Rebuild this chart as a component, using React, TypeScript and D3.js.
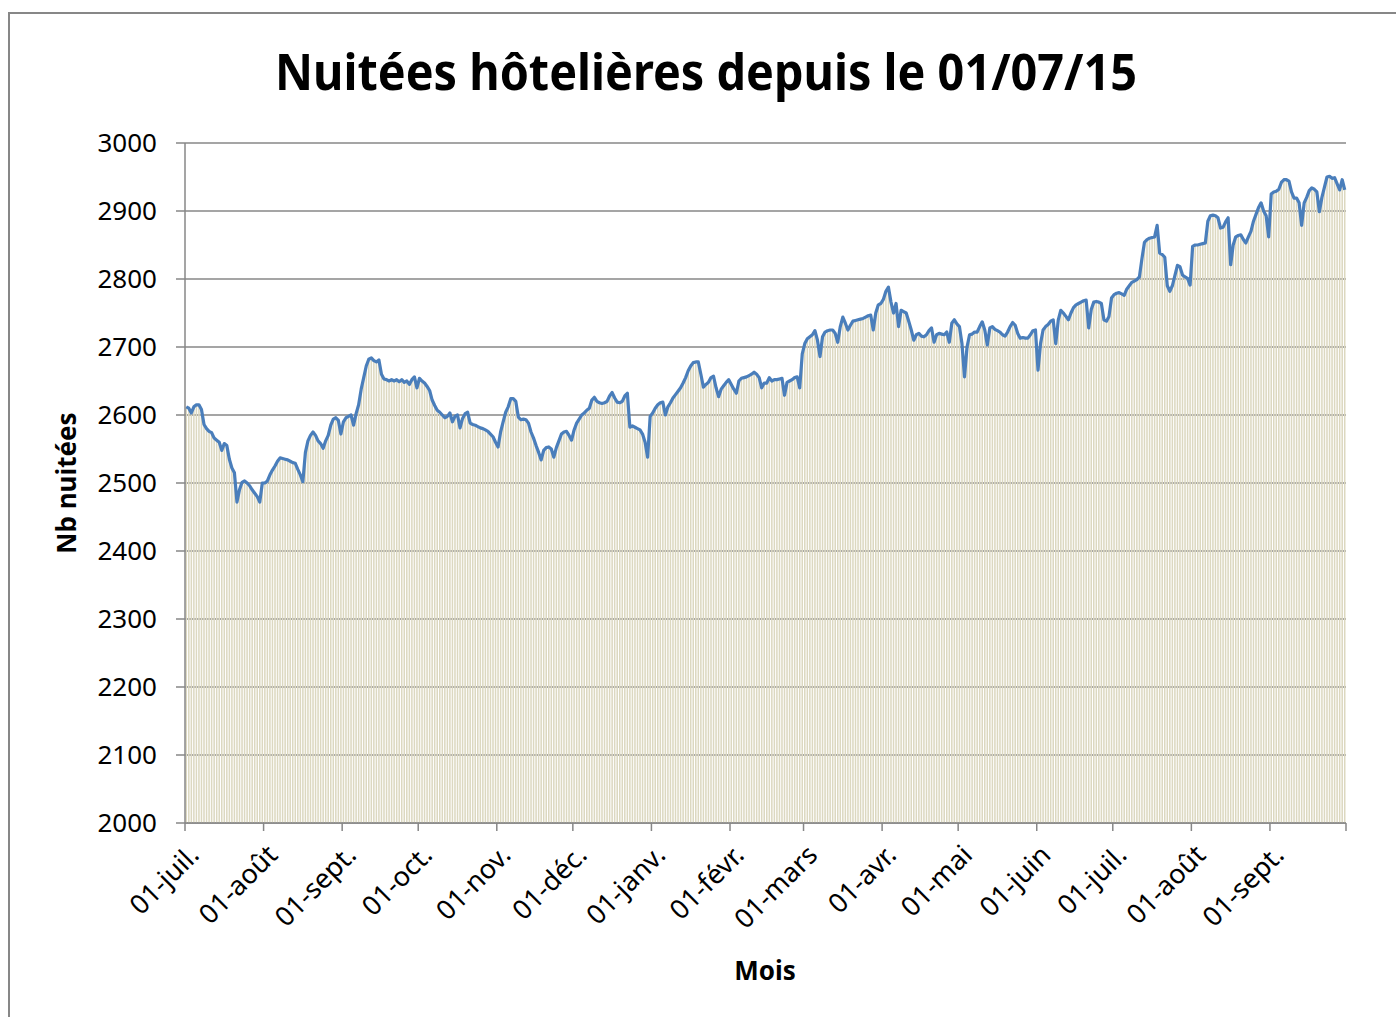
import * as d3 from "d3";

// daily values, one array per month (01/07/15 -> 30/09/16)
const jul15 = [2612, 2610, 2603, 2612, 2615, 2615, 2608, 2586, 2580, 2576, 2574, 2566, 2563, 2560, 2548, 2558, 2555, 2535, 2522, 2515, 2472, 2490, 2501, 2503, 2500, 2496, 2490, 2485, 2480, 2472, 2500];
const aug15 = [2500, 2503, 2512, 2519, 2525, 2532, 2537, 2536, 2535, 2534, 2532, 2530, 2529, 2520, 2512, 2502, 2545, 2562, 2570, 2575, 2570, 2562, 2558, 2551, 2562, 2570, 2585, 2594, 2596, 2592, 2572];
const sep15 = [2590, 2596, 2598, 2600, 2585, 2602, 2615, 2638, 2655, 2672, 2682, 2684, 2680, 2678, 2681, 2660, 2653, 2652, 2650, 2652, 2650, 2652, 2649, 2652, 2648, 2650, 2645, 2652, 2656, 2640];
const oct15 = [2654, 2650, 2647, 2642, 2636, 2622, 2614, 2607, 2604, 2600, 2596, 2598, 2603, 2590, 2598, 2600, 2581, 2595, 2602, 2604, 2588, 2586, 2585, 2583, 2581, 2580, 2578, 2576, 2572, 2568, 2560];
const nov15 = [2553, 2575, 2590, 2604, 2612, 2624, 2624, 2620, 2597, 2593, 2594, 2593, 2588, 2575, 2566, 2555, 2545, 2534, 2548, 2552, 2553, 2550, 2538, 2552, 2562, 2572, 2575, 2576, 2570, 2563];
const dec15 = [2578, 2588, 2594, 2600, 2603, 2607, 2610, 2622, 2626, 2620, 2618, 2617, 2618, 2620, 2628, 2633, 2625, 2619, 2618, 2620, 2628, 2632, 2582, 2584, 2582, 2580, 2578, 2572, 2560, 2538, 2598];
const jan16 = [2603, 2610, 2615, 2618, 2619, 2600, 2612, 2618, 2625, 2630, 2635, 2640, 2647, 2655, 2665, 2672, 2677, 2678, 2678, 2660, 2641, 2645, 2648, 2655, 2657, 2640, 2627, 2638, 2643, 2648, 2652];
const feb16 = [2645, 2638, 2632, 2650, 2654, 2655, 2656, 2658, 2660, 2663, 2660, 2655, 2640, 2647, 2647, 2655, 2650, 2652, 2652, 2653, 2654, 2629, 2648, 2650, 2652, 2655, 2656, 2640, 2690];
const mar16 = [2705, 2712, 2715, 2718, 2724, 2710, 2686, 2715, 2722, 2724, 2725, 2725, 2720, 2707, 2730, 2744, 2735, 2725, 2732, 2738, 2739, 2740, 2741, 2742, 2744, 2746, 2747, 2725, 2750, 2762, 2764];
const apr16 = [2770, 2782, 2788, 2766, 2750, 2764, 2730, 2754, 2752, 2750, 2738, 2725, 2710, 2718, 2720, 2716, 2715, 2718, 2724, 2728, 2707, 2718, 2720, 2719, 2718, 2722, 2707, 2735, 2740, 2734];
const may16 = [2730, 2705, 2656, 2700, 2718, 2719, 2722, 2722, 2730, 2737, 2725, 2703, 2728, 2730, 2726, 2724, 2722, 2718, 2716, 2722, 2730, 2736, 2732, 2720, 2713, 2714, 2713, 2713, 2718, 2724, 2725];
const jun16 = [2666, 2705, 2725, 2730, 2733, 2738, 2740, 2705, 2740, 2754, 2750, 2745, 2740, 2750, 2758, 2762, 2764, 2766, 2768, 2769, 2728, 2755, 2766, 2767, 2766, 2764, 2740, 2738, 2745, 2772];
const jul16 = [2777, 2779, 2780, 2778, 2776, 2785, 2790, 2795, 2797, 2799, 2803, 2830, 2854, 2858, 2860, 2861, 2862, 2879, 2838, 2836, 2832, 2790, 2782, 2790, 2805, 2820, 2818, 2806, 2803, 2801, 2791];
const aug16 = [2848, 2850, 2850, 2851, 2852, 2853, 2885, 2893, 2894, 2893, 2890, 2875, 2876, 2884, 2890, 2821, 2850, 2862, 2864, 2865, 2858, 2853, 2862, 2870, 2885, 2895, 2905, 2912, 2900, 2893, 2862];
const sep16 = [2925, 2928, 2929, 2932, 2942, 2946, 2946, 2944, 2928, 2919, 2919, 2912, 2879, 2912, 2920, 2930, 2934, 2932, 2928, 2899, 2920, 2935, 2950, 2951, 2948, 2949, 2940, 2931, 2946, 2931];

const months = [jul15, aug15, sep15, oct15, nov15, dec15, jan16, feb16, mar16, apr16, may16, jun16, jul16, aug16, sep16];
const monthLabels = ["01-juil.", "01-août", "01-sept.", "01-oct.", "01-nov.", "01-déc.", "01-janv.", "01-févr.", "01-mars", "01-avr.", "01-mai", "01-juin", "01-juil.", "01-août", "01-sept."];
const yTicks = [2000, 2100, 2200, 2300, 2400, 2500, 2600, 2700, 2800, 2900, 3000];

const W = 1396;
const H = 1017;
const left = 185;
const right = 1346;
const top = 143;
const bottom = 823;
const font = "'Noto Sans', 'Open Sans', sans-serif";
const grey = "#878787";

export default function App() {
  const values = months.flat();
  const n = values.length;
  const starts: number[] = [];
  months.reduce((acc, m) => {
    starts.push(acc);
    return acc + m.length;
  }, 0);

  const x = d3.scaleLinear().domain([0, n]).range([left, right]);
  const y = d3.scaleLinear().domain([2000, 3000]).range([bottom, top]);
  const step = x(1) - x(0);

  const line = d3
    .line<number>()
    .x((_, i) => x(i + 0.5))
    .y((d) => y(d));

  return (
    <div style={{ position: "absolute", left: 0, top: 0 }}>
      <svg width={W} height={H} style={{ display: "block", background: "#fff" }}>
        <rect x={9} y={13} width={W + 20} height={H + 20} fill="#fff" stroke={grey} strokeWidth={2} />
        <text
          x={706}
          y={90}
          textAnchor="middle"
          fontFamily={font}
          fontWeight="bold"
          fontSize={50}
          textLength={862}
          lengthAdjust="spacingAndGlyphs"
        >
          Nuitées hôtelières depuis le 01/07/15
        </text>

        {/* grid */}
        {yTicks.map((t) => (
          <line key={t} x1={left - 9} x2={right} y1={y(t)} y2={y(t)} stroke={grey} strokeWidth={1.5} />
        ))}

        {/* bars */}
        {values.map((v, i) => (
          <rect key={i} x={x(i) + step * 0.2} width={step * 0.6} y={y(v)} height={y(2000) - y(v)} fill="#dcd8c0" />
        ))}

        <path d={line(values) ?? ""} fill="none" stroke="#4a7ebb" strokeWidth={3.2} strokeLinejoin="round" />

        {/* axes */}
        <line x1={left} x2={left} y1={top} y2={bottom} stroke={grey} strokeWidth={1.5} />
        <line x1={left} x2={right} y1={bottom} y2={bottom} stroke={grey} strokeWidth={1.5} />
        {[...starts, n].map((s, i) => (
          <line key={i} x1={x(s)} x2={x(s)} y1={bottom} y2={bottom + 8} stroke={grey} strokeWidth={1.5} />
        ))}

        {yTicks.map((t) => (
          <text key={t} x={157} y={y(t) + 9} textAnchor="end" fontFamily={font} fontSize={26}>
            {t}
          </text>
        ))}

        {starts.map((s, i) => (
          <text
            key={i}
            transform={`translate(${x(s) + 9},${850}) rotate(-45)`}
            textAnchor="end"
            fontFamily={font}
            fontSize={27}
            dy="0.35em"
          >
            {monthLabels[i]}
          </text>
        ))}

        <text x={765} y={980} textAnchor="middle" fontFamily={font} fontWeight="bold" fontSize={26}>
          Mois
        </text>
        <text
          transform={`translate(76,483) rotate(-90)`}
          textAnchor="middle"
          fontFamily={font}
          fontWeight="bold"
          fontSize={26}
        >
          Nb nuitées
        </text>
      </svg>
    </div>
  );
}
